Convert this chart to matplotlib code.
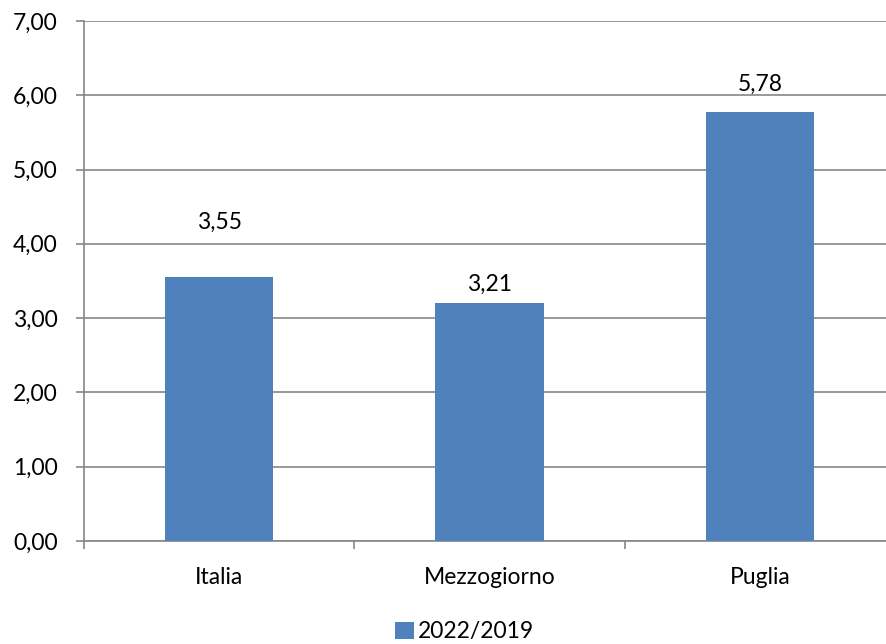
"""Bar chart: 2022/2019 variation for Italia, Mezzogiorno, Puglia."""

import matplotlib.pyplot as plt
import numpy as np
from matplotlib.patches import Patch

categories = ["Italia", "Mezzogiorno", "Puglia"]
values = [3.55, 3.21, 5.78]
series_name = "2022/2019"
y_ticks = [0, 1, 2, 3, 4, 5, 6, 7]

# manual label placement above each bar (data units), as in the source chart
label_offsets = [0.74, 0.24, 0.37]

BAR_COLOR = "#4F81BD"
GRID_COLOR = "#868686"
FONT_SIZE = 16.5


def fmt(v, decimals=2):
    return f"{v:.{decimals}f}".replace(".", ",")


def main():
    plt.rcParams["font.family"] = ["Lato", "DejaVu Sans"]
    fig = plt.figure(figsize=(8.87, 6.44), dpi=100)
    ax = fig.add_axes([0.0947, 0.16, 0.9143, 0.8074])

    x = np.arange(len(categories))
    ax.bar(x, values, width=0.4, color=BAR_COLOR, zorder=3)

    for xi, v, off in zip(x, values, label_offsets):
        ax.text(xi, v + off, fmt(v), ha="center", va="center", fontsize=FONT_SIZE, color="black")

    ax.set_xlim(-0.5, len(categories) - 0.5)
    ax.set_ylim(0, 7)
    ax.set_yticks(y_ticks)
    ax.set_yticklabels([fmt(t) for t in y_ticks])
    ax.yaxis.grid(True, color=GRID_COLOR, linewidth=1.2, zorder=0)
    ax.set_axisbelow(True)

    ax.set_xticks(x)
    ax.set_xticklabels(categories)
    ax.set_xticks(np.arange(len(categories) + 1) - 0.5, minor=True)
    ax.tick_params(axis="x", which="major", length=0, pad=19, labelsize=FONT_SIZE)
    ax.tick_params(axis="x", which="minor", length=6, width=1.2, color=GRID_COLOR)
    ax.tick_params(axis="y", length=6, width=1.2, color=GRID_COLOR, pad=13, labelsize=FONT_SIZE)

    for side in ("top", "right"):
        ax.spines[side].set_visible(False)
    for side in ("left", "bottom"):
        ax.spines[side].set_color(GRID_COLOR)
        ax.spines[side].set_linewidth(1.2)

    handle = Patch(facecolor=BAR_COLOR, label=series_name)
    fig.legend(handles=[handle], loc="center", bbox_to_anchor=(0.524, 0.019),
               frameon=False, fontsize=FONT_SIZE, handlelength=0.8, handleheight=0.8,
               handletextpad=0.2, borderaxespad=0)

    fig.savefig("out.png", dpi=100)


if __name__ == "__main__":
    main()
